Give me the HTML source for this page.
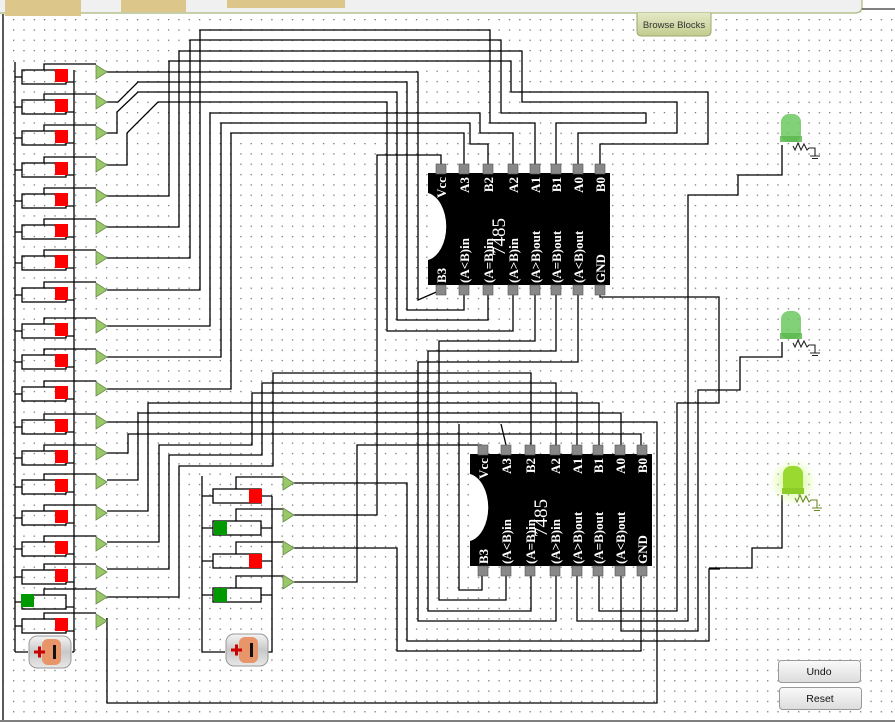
<!DOCTYPE html>
<html><head><meta charset="utf-8"><style>
html,body{margin:0;padding:0;background:#fff;width:895px;height:724px;overflow:hidden}
svg{display:block}
.w{fill:none;stroke:#000;stroke-width:1.3}
.lbl{font-family:"Liberation Serif",serif;font-weight:bold;font-size:13px;fill:#fff}
.pn{font-family:"Liberation Sans",sans-serif;font-size:7px;fill:#222}
</style></head><body>
<svg width="895" height="724" viewBox="0 0 895 724" xmlns="http://www.w3.org/2000/svg">
<defs>
<pattern id="dots" x="13" y="19" width="10.33" height="10.33" patternUnits="userSpaceOnUse">
<rect x="0" y="0" width="1.3" height="1.3" fill="#777"/></pattern>
<linearGradient id="bb" x1="0" y1="0" x2="0" y2="1"><stop offset="0" stop-color="#e4e8c4"/><stop offset="1" stop-color="#c3cc90"/></linearGradient>
<linearGradient id="btn" x1="0" y1="0" x2="0" y2="1"><stop offset="0" stop-color="#fafafa"/><stop offset="1" stop-color="#dcdcdc"/></linearGradient>
<linearGradient id="bat" x1="0" y1="0" x2="0" y2="1"><stop offset="0" stop-color="#f4f4f4"/><stop offset="0.5" stop-color="#c8c8c8"/><stop offset="1" stop-color="#e8e8e8"/></linearGradient>
<radialGradient id="glow"><stop offset="0" stop-color="#b8f060" stop-opacity="0.9"/><stop offset="1" stop-color="#d8ff90" stop-opacity="0"/></radialGradient>
<g id="swR"><path class="w" d="M44 -2 V-8 H96 M15 5 H22 M66 10 H74"/><rect x="22" y="-2" width="44" height="14" fill="none" stroke="#000" stroke-width="1.3"/><rect x="55" y="-3" width="13" height="13" fill="#f00"/><polygon points="96,-7 96,7 107,0" fill="#98c868" stroke="#6a8a4a" stroke-width="0.8"/></g>
<g id="swG"><path class="w" d="M44 -2 V-8 H96 M15 5 H22 M66 10 H74"/><rect x="22" y="-2" width="44" height="14" fill="none" stroke="#000" stroke-width="1.3"/><rect x="21" y="-3" width="13" height="13" fill="#090"/><polygon points="96,-7 96,7 107,0" fill="#98c868" stroke="#6a8a4a" stroke-width="0.8"/></g>
<g id="sR"><path class="w" d="M236 6 V-6 H283 M202 13 H213 M261 13 H272"/><rect x="213" y="6" width="48" height="14" fill="none" stroke="#000" stroke-width="1.3"/><rect x="249" y="6" width="13" height="14" fill="#f00"/><polygon points="283,-7 283,7 294,0" fill="#98c868" stroke="#6a8a4a" stroke-width="0.8"/></g>
<g id="sG"><path class="w" d="M236 6 V-6 H283 M202 13 H213 M261 13 H272"/><rect x="213" y="6" width="48" height="14" fill="none" stroke="#000" stroke-width="1.3"/><rect x="214" y="6" width="13" height="14" fill="#090"/><polygon points="283,-7 283,7 294,0" fill="#98c868" stroke="#6a8a4a" stroke-width="0.8"/></g>
<g id="battery"><rect x="0" y="0" width="42" height="32" rx="8" fill="url(#bat)" stroke="#999"/><rect x="13" y="3" width="19" height="26" rx="6" fill="#e8956a"/><path d="M5 16 H16 M10.5 10.5 V21.5" stroke="#c00" stroke-width="3"/><rect x="24" y="9" width="3" height="14" fill="#111"/></g>
<g id="led"><rect x="0" y="0" width="20" height="28" rx="8" fill="#6cc860" opacity="0.85"/><rect x="-1" y="22" width="22" height="6" fill="#5cb850" opacity="0.85"/><path d="M12 32 L14 36 L17 29 L20 36 L23 30 L26 36 L28 34 H34 V42 M29 42 H39 M31 44.5 H37" fill="none" stroke="#222" stroke-width="1.1"/></g>
<g id="pins" fill="#888" stroke="#555" stroke-width="0.6">
<rect x="436" y="164" width="10" height="10"/><rect x="459" y="164" width="10" height="10"/><rect x="483" y="164" width="10" height="10"/><rect x="508" y="164" width="10" height="10"/><rect x="530" y="164" width="10" height="10"/><rect x="551" y="164" width="10" height="10"/><rect x="573" y="164" width="10" height="10"/><rect x="595" y="164" width="10" height="10"/>
<rect x="436" y="285" width="10" height="10"/><rect x="459" y="285" width="10" height="10"/><rect x="483" y="285" width="10" height="10"/><rect x="508" y="285" width="10" height="10"/><rect x="530" y="285" width="10" height="10"/><rect x="551" y="285" width="10" height="10"/><rect x="573" y="285" width="10" height="10"/><rect x="595" y="285" width="10" height="10"/>
</g>
</defs>
<rect x="0" y="0" width="895" height="724" fill="#fff"/>
<rect x="4" y="14" width="891" height="706" fill="url(#dots)"/>
<!-- header -->
<rect x="0" y="0" width="862" height="13" fill="#f0f0f0"/>
<path d="M0 13 H855 Q862 13 862 6 V0" fill="none" stroke="#a8b878" stroke-width="1.2"/>
<path d="M862 9 H895" stroke="#000" stroke-width="1"/>
<rect x="5" y="0" width="76" height="16" fill="#dcc68a"/>
<rect x="121" y="0" width="65" height="12" fill="#dcc68a"/>
<rect x="227" y="0" width="118" height="8" fill="#dcc68a"/>
<path d="M637 13 V31 Q637 36 642 36 H706 Q711 36 711 31 V13" fill="url(#bb)" stroke="#9aaa6a"/>
<text x="674" y="28" text-anchor="middle" font-family="Liberation Sans,sans-serif" font-size="9.5" fill="#333">Browse Blocks</text>
<path d="M3 14 V720" stroke="#000" stroke-width="1.3"/>
<path d="M0 721 H895" stroke="#555" stroke-width="1.5"/>

<!-- wires -->
<g class="w">
<path d="M15 62 V652 M74 70 V652"/>
<path d="M107 72 H418 V300 L441 290"/>
<path d="M107 102 H118 L138 82 H407 V310 H464 V295"/>
<path d="M107 133 H117 V112 L138 92 H397 V320 H488 V295"/>
<path d="M107 165 H127 V133 L158 102 H387 V331 H513 V295"/>
<path d="M107 196 H169 V61 H511 V92 H708 V144 H600 V164"/>
<path d="M107 227 H179 V51 H522 V102 H677 V133 H578 V164"/>
<path d="M107 258 H190 V40 H501 V113 H646 V123 H556 V164"/>
<path d="M107 290 H200 V30 H490 V123 H535 V164"/>
<path d="M107 326 H210 V113 H480 V133 H513 V164"/>
<path d="M107 357 H221 V123 H470 V144 H488 V164"/>
<path d="M107 389 H231 V133 H464 V164"/>
<path d="M441 164 V155 H377 V515 H294"/>
<path d="M535 295 V341 H439 V600 H506 V575"/>
<path d="M556 295 V351 H428 V611 H531 V575"/>
<path d="M578 295 V362 H418 V621 H556 V575"/>
<path d="M600 295 V297 H719 V403 H677 V611 H599 V575"/>
<path d="M577 575 V621 H688 V195 H738 V175 H782 V145"/>
<path d="M621 575 V631 H698 V390 H740 V357 H782 V342"/>
<path d="M782 495 V548 H752 V568 H709"/>
<path d="M107 597 H179 V466 H273 V373 H531 V445"/>
<path d="M107 569 H169 V455 H262 V383 H556 V445"/>
<path d="M107 542 H159 V445 H252 V393 H577 V445"/>
<path d="M107 511 H148 V403 H599 V445"/>
<path d="M107 480 H138 V413 H621 V445"/>
<path d="M107 453 H128 V434 H641 V445"/>
<path d="M107 422 H657 V703 H107 V618"/>
<path d="M459 424 V590 H482 V575"/>
<path d="M501 424 L506 445"/>
<path d="M294 582 H357 V445 H482"/>
<path d="M294 548 H397 V651 H641 V575"/>
<path d="M294 483 H407 V641 H709 V569 H720"/>
<path d="M202 476 V652 H225 M272 496 V652 H268"/>
<path d="M15 652 H28 M72 652 H74"/>
</g>

<!-- switches -->
<use href="#swR" y="72"/><use href="#swR" y="102"/><use href="#swR" y="133"/><use href="#swR" y="165"/>
<use href="#swR" y="196"/><use href="#swR" y="227"/><use href="#swR" y="258"/><use href="#swR" y="290"/>
<use href="#swR" y="326"/><use href="#swR" y="357"/><use href="#swR" y="389"/><use href="#swR" y="422"/>
<use href="#swR" y="453"/><use href="#swR" y="482"/><use href="#swR" y="513"/><use href="#swR" y="544"/>
<use href="#swR" y="572"/><use href="#swG" y="597"/><use href="#swR" y="621"/>
<use href="#sR" y="483"/><use href="#sG" y="515"/><use href="#sR" y="548"/><use href="#sG" y="582"/>
<use href="#battery" x="29" y="636"/>
<use href="#battery" x="226" y="634"/>

<!-- chip 1 -->
<g id="chip">
<rect x="428" y="173" width="182" height="112" fill="#000"/>
<path d="M428 193 A22 34 0 0 1 428 260 Z" fill="#fff"/>
<use href="#pins"/>
<g class="lbl" text-anchor="end">
<text transform="translate(446,177) rotate(-90)">Vcc</text><text transform="translate(469,177) rotate(-90)">A3</text><text transform="translate(493,177) rotate(-90)">B2</text><text transform="translate(518,177) rotate(-90)">A2</text><text transform="translate(540,177) rotate(-90)">A1</text><text transform="translate(561,177) rotate(-90)">B1</text><text transform="translate(583,177) rotate(-90)">A0</text><text transform="translate(605,177) rotate(-90)">B0</text>
</g>
<g class="lbl">
<text transform="translate(446,283) rotate(-90)">B3</text><text transform="translate(469,283) rotate(-90)">(A&lt;B)in</text><text transform="translate(493,283) rotate(-90)">(A=B)in</text><text transform="translate(518,283) rotate(-90)">(A&gt;B)in</text><text transform="translate(540,283) rotate(-90)">(A&gt;B)out</text><text transform="translate(561,283) rotate(-90)">(A=B)out</text><text transform="translate(583,283) rotate(-90)">(A&lt;B)out</text><text transform="translate(605,283) rotate(-90)">GND</text>
</g>
<text transform="translate(505,256) rotate(-90)" font-family="Liberation Serif,serif" font-size="19" fill="#fff">7485</text>
</g>

<!-- chip 2 -->
<use href="#chip" x="42" y="281"/>

<!-- LEDs -->
<use href="#led" x="781" y="114"/>
<use href="#led" x="781" y="311"/>
<circle cx="793" cy="482" r="24" fill="url(#glow)"/>
<g transform="translate(783,466)"><rect x="0" y="0" width="20" height="28" rx="8" fill="#9ada30"/><rect x="-1" y="22" width="22" height="6" fill="#8ccc28"/><path d="M12 32 L14 36 L17 29 L20 36 L23 30 L26 36 L28 34 H34 V42 M29 42 H39 M31 44.5 H37" fill="none" stroke="#6a8a20" stroke-width="1.1"/></g>

<!-- buttons -->
<rect x="778.5" y="660.5" width="82" height="22" rx="3" fill="url(#btn)" stroke="#999"/>
<text x="819" y="675" text-anchor="middle" font-family="Liberation Sans,sans-serif" font-size="10.5" fill="#111">Undo</text>
<rect x="779.5" y="687.5" width="82" height="22" rx="3" fill="url(#btn)" stroke="#999"/>
<text x="820" y="702" text-anchor="middle" font-family="Liberation Sans,sans-serif" font-size="10.5" fill="#111">Reset</text>
</svg>
</body></html>
